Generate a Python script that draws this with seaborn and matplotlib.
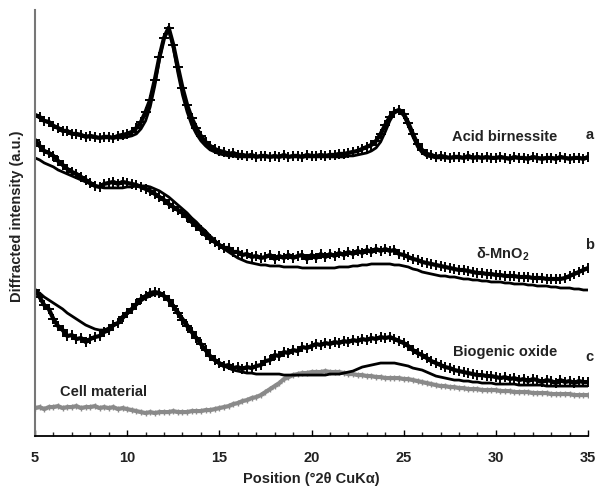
import numpy as np
import matplotlib
matplotlib.use('Agg')
import matplotlib.pyplot as plt
import seaborn as sns

# scan positions (°2θ), 0.25° step
position = np.linspace(5, 35, 121)

# intensities (a.u., offset for stacking)
acid_data = [321, 319, 315, 314, 310, 308, 305, 305, 302, 302, 301, 299, 300, 299, 298, 299, 299, 298, 300, 301,
             302, 304, 308, 314, 324, 336, 356, 379, 398, 408, 391, 369, 348, 331, 318, 308, 300, 294, 290, 287,
             285, 284, 282, 283, 281, 281, 280, 281, 279, 280, 280, 279, 280, 279, 281, 279, 280, 280, 279, 281,
             280, 280, 281, 280, 281, 281, 282, 282, 283, 284, 285, 287, 289, 291, 295, 302, 311, 319, 324, 326,
             322, 313, 302, 292, 286, 282, 281, 279, 280, 279, 278, 279, 279, 278, 280, 278, 279, 278, 279, 278,
             278, 279, 278, 277, 279, 278, 278, 277, 279, 278, 277, 278, 278, 277, 279, 278, 277, 278, 278, 277,
             279]
acid_fit = [321, 318, 315, 313, 310, 308, 305, 304, 302, 301, 300, 299, 299, 298, 298, 298, 298, 298, 298, 298,
            299, 300, 302, 307, 315, 329, 350, 376, 398, 406, 388, 363, 341, 324, 311, 302, 295, 290, 286, 284,
            282, 281, 280, 280, 279, 279, 279, 279, 279, 279, 279, 279, 279, 279, 279, 279, 279, 279, 279, 279,
            279, 279, 279, 279, 279, 279, 279, 279, 280, 280, 281, 282, 283, 285, 288, 294, 304, 315, 323, 325,
            320, 310, 299, 289, 283, 280, 279, 278, 278, 278, 278, 278, 278, 278, 278, 278, 278, 278, 278, 278,
            278, 278, 278, 278, 278, 278, 278, 278, 278, 278, 278, 278, 278, 278, 278, 278, 278, 278, 278, 278,
            278]

mno2_data = [296, 290, 285, 283, 280, 275, 271, 267, 264, 262, 259, 256, 253, 250, 249, 252, 253, 254, 252, 254,
             253, 252, 251, 249, 247, 245, 242, 239, 236, 232, 229, 226, 223, 219, 214, 210, 206, 201, 197, 194,
             191, 188, 188, 184, 184, 181, 182, 179, 180, 178, 179, 181, 177, 180, 178, 181, 178, 180, 181, 177,
             181, 178, 182, 179, 182, 180, 183, 181, 184, 182, 185, 183, 186, 184, 187, 185, 187, 185, 186, 182,
             181, 179, 177, 176, 174, 173, 172, 171, 170, 169, 168, 167, 166, 166, 165, 164, 163, 163, 162, 162,
             161, 161, 160, 160, 160, 159, 159, 159, 158, 158, 158, 157, 157, 157, 157, 158, 160, 162, 164, 166,
             168]
mno2_fit = [278, 276, 273, 271, 269, 266, 264, 262, 260, 258, 256, 254, 252, 250, 249, 248, 248, 248, 248, 248,
            249, 249, 250, 250, 250, 249, 247, 245, 242, 239, 235, 231, 227, 223, 218, 214, 209, 205, 200, 196,
            191, 187, 184, 181, 178, 176, 174, 173, 172, 171, 171, 170, 170, 170, 169, 169, 169, 169, 168, 168,
            168, 168, 168, 168, 168, 168, 169, 169, 169, 170, 170, 171, 171, 172, 172, 172, 172, 172, 171, 171,
            170, 169, 167, 166, 164, 163, 162, 161, 160, 160, 159, 159, 158, 157, 157, 156, 156, 155, 155, 154,
            154, 154, 153, 153, 152, 152, 152, 151, 151, 150, 150, 150, 149, 149, 148, 148, 148, 147, 147, 146,
            146]

bio_data = [146, 139, 131, 127, 117, 110, 106, 100, 101, 97, 98, 94, 97, 99, 100, 104, 106, 111, 113, 119,
            123, 127, 132, 137, 140, 143, 144, 143, 140, 136, 130, 123, 116, 110, 104, 98, 92, 86, 80, 76,
            73, 70, 71, 68, 69, 67, 69, 68, 70, 71, 75, 76, 81, 80, 84, 83, 86, 85, 89, 88,
            90, 92, 91, 93, 92, 94, 93, 95, 94, 96, 95, 97, 96, 98, 97, 99, 98, 99, 97, 95,
            93, 90, 86, 83, 81, 78, 75, 73, 71, 69, 68, 66, 65, 64, 63, 62, 61, 61, 60, 60,
            59, 58, 59, 57, 58, 56, 57, 55, 57, 56, 54, 56, 55, 53, 56, 54, 55, 53, 55, 54,
            54]
bio_fit = [146, 143, 139, 136, 133, 130, 127, 123, 120, 117, 114, 111, 109, 107, 106, 106, 108, 110, 113, 117,
           122, 126, 131, 135, 138, 140, 142, 142, 140, 136, 131, 125, 118, 112, 105, 99, 92, 86, 80, 76,
           72, 70, 68, 66, 65, 64, 63, 63, 62, 62, 62, 62, 62, 62, 61, 61, 61, 61, 61, 61,
           61, 61, 61, 61, 62, 62, 62, 63, 64, 65, 67, 69, 70, 71, 72, 73, 73, 73, 73, 72,
           71, 70, 68, 67, 66, 64, 62, 60, 59, 58, 57, 56, 56, 55, 55, 54, 54, 53, 53, 53,
           52, 52, 52, 52, 52, 51, 51, 51, 51, 51, 51, 50, 50, 50, 50, 50, 50, 50, 50, 50,
           50]

cell_data = [28, 29, 27, 29, 29, 30, 28, 29, 29, 30, 28, 29, 29, 30, 28, 29, 28, 29, 27, 28,
             27, 26, 25, 24, 23, 24, 23, 24, 24, 24, 25, 24, 24, 24, 25, 25, 25, 26, 26, 27,
             28, 29, 30, 32, 33, 35, 36, 38, 39, 41, 44, 47, 50, 53, 57, 59, 61, 62, 63, 63,
             64, 64, 64, 65, 64, 64, 64, 63, 62, 62, 61, 61, 60, 60, 59, 59, 58, 58, 58, 58,
             57, 57, 56, 55, 54, 53, 52, 51, 50, 50, 49, 49, 48, 48, 47, 47, 47, 46, 46, 46,
             46, 45, 45, 45, 44, 44, 44, 44, 43, 43, 43, 43, 42, 42, 42, 42, 42, 41, 41, 41,
             41]

xticks = [5, 10, 15, 20, 25, 30, 35]

sns.set_style('white')
plt.rcParams['font.family'] = ['Liberation Sans', 'DejaVu Sans']
plt.rcParams['mathtext.fontset'] = 'custom'
plt.rcParams['mathtext.bf'] = 'Liberation Sans:bold'
plt.rcParams['mathtext.rm'] = 'Liberation Sans:bold'
plt.rcParams['mathtext.default'] = 'bf'

fig = plt.figure(figsize=(5.97, 4.90), dpi=100)
ax = fig.add_axes([0.0586, 0.110, 0.9264, 0.870])

txt = '#222222'

# cell material: dense grey trace
sns.lineplot(x=position, y=cell_data, color='#8a8a8a', lw=3, ax=ax)
sns.scatterplot(x=position, y=cell_data, marker='+', color='#8a8a8a', s=14, linewidth=1, ax=ax)

# measured patterns: dense crosses forming a band
for data in [acid_data, mno2_data, bio_data]:
    sns.lineplot(x=position, y=data, color='black', lw=3, ax=ax)
    sns.scatterplot(x=position, y=data, marker='+', color='black', s=48, linewidth=1.4, ax=ax)

for fit in [acid_fit, mno2_fit, bio_fit]:
    sns.lineplot(x=position, y=fit, color='black', lw=2, ax=ax)

ax.set_xlim(5, 35)
ax.set_ylim(0, 426)
ax.set_xticks(xticks)
ax.set_xticks(np.arange(5, 36, 1), minor=True)
ax.set_yticks([])
ax.tick_params(axis='x', which='major', direction='in', length=4.5, width=1, pad=11,
               labelsize=10.5, colors='black', labelcolor=txt, bottom=True)
ax.tick_params(axis='x', which='minor', direction='in', length=3, width=1, bottom=True)
for lab in ax.get_xticklabels():
    lab.set_fontweight('bold')

sns.despine(ax=ax, top=True, right=True)
ax.spines['left'].set_color('#777777')
ax.spines['left'].set_linewidth(1.5)
ax.spines['bottom'].set_color('black')
ax.spines['bottom'].set_linewidth(1.3)

ax.set_xlabel('Position (°2θ CuKα)', fontsize=10.5, fontweight='bold', color=txt, labelpad=5)
ax.set_ylabel('Diffracted intensity (a.u.)', fontsize=10.5, fontweight='bold', color=txt, labelpad=7)
ax.yaxis.set_label_coords(-0.02, 0.515)

kw = dict(fontsize=10.5, fontweight='bold', color=txt, va='center', clip_on=False)
ax.text(30.5, 299, 'Acid birnessite', ha='center', **kw)
ax.text(35.1, 301, 'a', ha='center', **kw)
ax.text(30.4, 182, 'δ-MnO$_2$', ha='center', **kw)
ax.text(35.1, 191, 'b', ha='center', **kw)
ax.text(30.5, 84, 'Biogenic oxide', ha='center', **kw)
ax.text(35.1, 79, 'c', ha='center', **kw)
ax.text(8.7, 44, 'Cell material', ha='center', **kw)

plt.savefig('out.png', dpi=100)
